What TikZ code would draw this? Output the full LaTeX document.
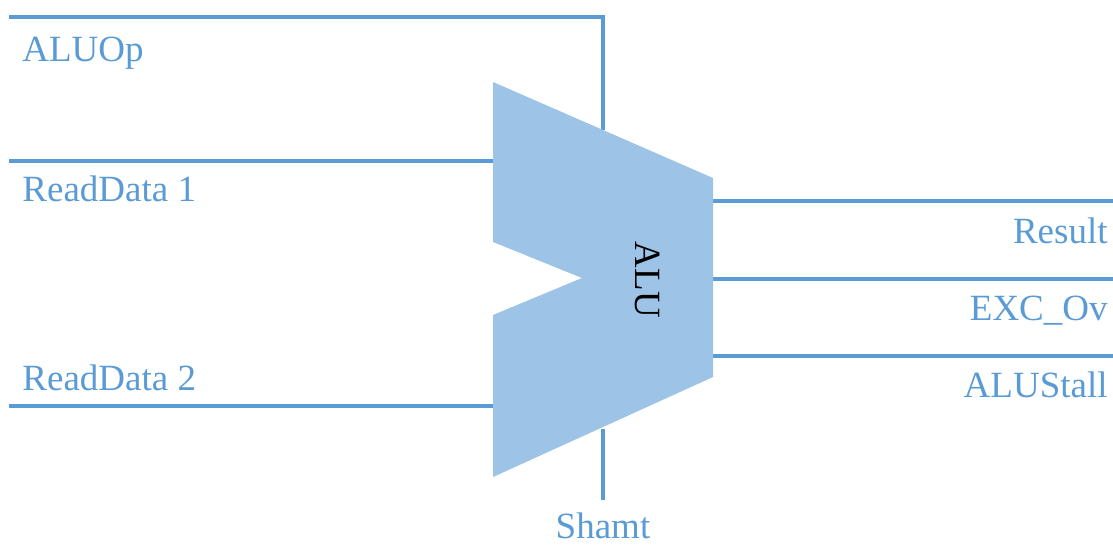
\documentclass[tikz,border=0pt]{standalone}
\usepackage{fontspec}
\setmainfont{Liberation Serif}
\usetikzlibrary{positioning}
\definecolor{wireblue}{HTML}{5B9BD5}
\definecolor{alublue}{HTML}{9DC3E6}

\begin{document}
\begin{tikzpicture}[x=0.5pt,y=-0.5pt,
			wire/.style={draw=wireblue,line width=1.6pt},
			sig/.style={text=wireblue,inner sep=0pt,font=\fontsize{18.5}{22}\selectfont},
			alu/.style={fill=alublue,draw=none}
			]
			\useasboundingbox (0,0) rectangle (1113,545);
			% corners of the ALU block
			\coordinate (tl) at (493,82);
			\coordinate (tr) at (713,178);
			\coordinate (br) at (713,377);
			\coordinate (bl) at (493,477);
			\coordinate (nu) at (493,242);
			\coordinate (nt) at (582,278);
			\coordinate (nl) at (493,315);
			% wire ends
			\coordinate (op0) at (9,17);
			\coordinate (op1) at (603,130);
			\coordinate (a0) at (9,161);
			\coordinate (a1) at (493,161);
			\coordinate (b0) at (9,406);
			\coordinate (b1) at (493,406);
			\coordinate (r0) at (713,201);
			\coordinate (r1) at (1113,201);
			\coordinate (v0) at (713,279);
			\coordinate (v1) at (1113,279);
			\coordinate (s0) at (713,356);
			\coordinate (s1) at (1113,356);
			\coordinate (sh0) at (603,429);
			\coordinate (sh1) at (603,500);
			% wires
			\draw[wire] (op0) -| (op1);
			\draw[wire] (a0) -- (a1);
			\draw[wire] (b0) -- (b1);
			\draw[wire] (r0) -- (r1);
			\draw[wire] (v0) -- (v1);
			\draw[wire] (s0) -- (s1);
			\draw[wire] (sh0) -- (sh1);
			% ALU
			\path[alu] (tl) -- (tr) -- (br) -- (bl) -- (nl) -- (nt) -- (nu) -- cycle;
			\node[inner sep=0pt,rotate=-90,font=\fontsize{18.5}{22}\selectfont] (alutxt) at (648,280) {ALU};
			% signal names
			\node[sig,anchor=base west] (lop) at (22,62) {ALUOp};
			\node[sig,anchor=base west] (lrd1) at (22,202) {ReadData 1};
			\node[sig,anchor=base west] (lrd2) at (22,390) {ReadData 2};
			\node[sig,anchor=base east] (lres) at (1108,244) {Result};
			\node[sig,anchor=base east] (lexc) at (1108,321) {EXC\_Ov};
			\node[sig,anchor=base east] (lstall) at (1108,397) {ALUStall};
			\node[sig,anchor=base] (lsh) at (603,538) {Shamt};
		\end{tikzpicture}
\end{document}
